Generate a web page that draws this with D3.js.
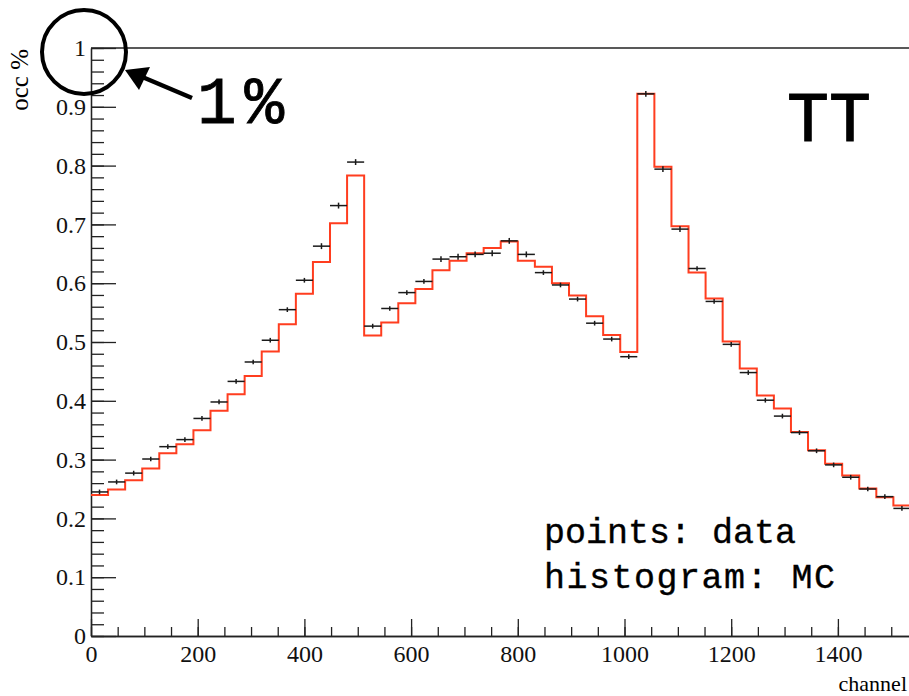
<!DOCTYPE html>
<html>
<head>
<meta charset="utf-8">
<script src="https://cdn.jsdelivr.net/npm/d3@7"></script>
<style>
  body { margin: 0; background: #fff; }
</style>
</head>
<body>
<svg id="chart" width="909" height="696"></svg>
<script>
// channel bins: 48 bins of 32 channels (0 - 1536)
const binWidth = 32;
const binStarts = [
  0, 32, 64, 96, 128, 160, 192, 224, 256, 288, 320, 352, 384, 416, 448, 480,
  512, 544, 576, 608, 640, 672, 704, 736, 768, 800, 832, 864, 896, 928, 960, 992,
  1024, 1056, 1088, 1120, 1152, 1184, 1216, 1248, 1280, 1312, 1344, 1376, 1408, 1440, 1472, 1504
];

// occupancy (%) measured in data (points)
const dataOcc = [
  0.245, 0.262, 0.277, 0.301, 0.322, 0.334, 0.370, 0.398, 0.433, 0.466, 0.503, 0.555, 0.605, 0.663, 0.732, 0.806,
  0.527, 0.557, 0.584, 0.603, 0.641, 0.645, 0.649, 0.651, 0.672, 0.649, 0.618, 0.597, 0.573, 0.532, 0.505, 0.475,
  0.922, 0.794, 0.692, 0.625, 0.569, 0.496, 0.448, 0.401, 0.374, 0.346, 0.315, 0.291, 0.270, 0.250, 0.237, 0.217
];
const dataErr = [
  0.004, 0.004, 0.004, 0.004, 0.004, 0.004, 0.004, 0.004, 0.004, 0.004, 0.004, 0.004, 0.004, 0.005, 0.005, 0.005,
  0.004, 0.004, 0.004, 0.004, 0.005, 0.005, 0.005, 0.005, 0.005, 0.005, 0.004, 0.004, 0.004, 0.004, 0.004, 0.004,
  0.005, 0.005, 0.005, 0.004, 0.004, 0.004, 0.004, 0.004, 0.004, 0.004, 0.004, 0.004, 0.004, 0.004, 0.004, 0.004
];

// occupancy (%) from MC (histogram)
const mcOcc = [
  0.240, 0.249, 0.265, 0.285, 0.311, 0.326, 0.350, 0.383, 0.411, 0.442, 0.484, 0.530, 0.582, 0.636, 0.702, 0.783,
  0.511, 0.533, 0.566, 0.590, 0.622, 0.638, 0.651, 0.660, 0.671, 0.638, 0.628, 0.600, 0.579, 0.544, 0.512, 0.483,
  0.922, 0.798, 0.697, 0.618, 0.574, 0.501, 0.455, 0.409, 0.387, 0.347, 0.316, 0.293, 0.273, 0.251, 0.236, 0.222
];

const xTickValues = [0, 200, 400, 600, 800, 1000, 1200, 1400];
const yTickValues = [0, 0.1, 0.2, 0.3, 0.4, 0.5, 0.6, 0.7, 0.8, 0.9, 1];
const yTickLabels = ["0", "0.1", "0.2", "0.3", "0.4", "0.5", "0.6", "0.7", "0.8", "0.9", "1"];

const svg = d3.select("#chart");
const plotLeft = 91, plotTop = 48, plotBottom = 636;
const pxPerChannel = 0.5335;
const serif = "'Liberation Serif', Tinos, serif";
const slab = "'Liberation Mono', 'Courier New', monospace";

const x = d3.scaleLinear().domain([0, 1536]).range([plotLeft, plotLeft + 1536 * pxPerChannel]);
const y = d3.scaleLinear().domain([0, 1]).range([plotBottom, plotTop]);

function styleAxis(g) {
  g.attr("font-family", null).attr("font-size", null);
  g.selectAll("path, line").attr("stroke", "#222").attr("stroke-width", 1.3);
  g.selectAll("text")
    .style("font-family", serif)
    .style("font-size", "24px")
    .attr("fill", "#111");
}

// frame top line
svg.append("line")
  .attr("x1", plotLeft).attr("x2", 909)
  .attr("y1", plotTop).attr("y2", plotTop)
  .attr("stroke", "#222").attr("stroke-width", 1.3);

// minor ticks
svg.append("g")
  .attr("transform", `translate(${plotLeft},0)`)
  .call(d3.axisLeft(y).tickValues(d3.range(0, 1.0001, 0.02)).tickSizeInner(-13).tickSizeOuter(0).tickFormat(""))
  .call(styleAxis);
svg.append("g")
  .attr("transform", `translate(0,${plotBottom})`)
  .call(d3.axisBottom(x).tickValues(d3.range(0, 1536, 50)).tickSizeInner(-9).tickSizeOuter(0).tickFormat(""))
  .call(styleAxis);

// major ticks + labels
svg.append("g")
  .attr("transform", `translate(${plotLeft},0)`)
  .call(d3.axisLeft(y).tickValues(yTickValues).tickSizeInner(-25).tickSizeOuter(0)
    .tickPadding(5).tickFormat((d, i) => yTickLabels[i]))
  .call(styleAxis);
svg.append("g")
  .attr("transform", `translate(0,${plotBottom})`)
  .call(d3.axisBottom(x).tickValues(xTickValues).tickSizeInner(-17).tickSizeOuter(0)
    .tickPadding(9).tickFormat(d3.format("d")))
  .call(styleAxis);

// axis titles
svg.append("text")
  .attr("transform", "translate(28,49) rotate(-90)")
  .attr("text-anchor", "end")
  .style("font-family", serif)
  .style("font-size", "25px")
  .text("occ %");
svg.append("text")
  .attr("x", 907).attr("y", 691)
  .attr("text-anchor", "end")
  .style("font-family", serif)
  .style("font-size", "22px")
  .text("channel");

// MC histogram
const histPoints = binStarts.map((b, i) => [b, mcOcc[i]]);
histPoints.push([binStarts[binStarts.length - 1] + binWidth, mcOcc[mcOcc.length - 1]]);
const step = d3.line().curve(d3.curveStepAfter).x(d => x(d[0])).y(d => y(d[1]));
svg.append("path")
  .attr("d", step(histPoints))
  .attr("fill", "none")
  .attr("stroke", "#ff3d1f")
  .attr("stroke-width", 2);

// data points with error bars
const pts = svg.append("g").attr("stroke", "#1a1a1a").attr("stroke-width", 1.5);
pts.selectAll("line.h")
  .data(binStarts)
  .enter().append("line").attr("class", "h")
  .attr("x1", d => x(d)).attr("x2", d => x(d + binWidth))
  .attr("y1", (d, i) => y(dataOcc[i])).attr("y2", (d, i) => y(dataOcc[i]));
pts.selectAll("line.v")
  .data(binStarts)
  .enter().append("line").attr("class", "v")
  .attr("x1", d => x(d + binWidth / 2)).attr("x2", d => x(d + binWidth / 2))
  .attr("y1", (d, i) => y(dataOcc[i] - dataErr[i])).attr("y2", (d, i) => y(dataOcc[i] + dataErr[i]));

// labels (typewriter style, thickened a little)
function slabText(tx, ty, size, str, sw, spacing) {
  svg.append("text")
    .attr("x", tx).attr("y", ty)
    .style("font-family", slab).style("font-size", size + "px")
    .style("letter-spacing", (spacing || 0) + "px")
    .attr("fill", "#000").attr("stroke", "#000").attr("stroke-width", sw)
    .text(str);
}
slabText(787, 141, 70, "TT", 1.0);
slabText(544, 543, 35, "points: data", 0.35);
slabText(544, 588, 35, "histogram: MC", 0.35, 1.5);

// 1% annotation: circle + arrow
svg.append("circle")
  .attr("cx", 84).attr("cy", 52).attr("r", 42)
  .attr("fill", "none").attr("stroke", "#000").attr("stroke-width", 4);
svg.append("line")
  .attr("x1", 192).attr("y1", 98).attr("x2", 140).attr("y2", 76)
  .attr("stroke", "#000").attr("stroke-width", 4.5);
svg.append("path")
  .attr("d", "M125,70 L150,67 L139,90 Z")
  .attr("fill", "#000");
slabText(197, 123, 66, "1%", 0.8, 8);
</script>
</body>
</html>
